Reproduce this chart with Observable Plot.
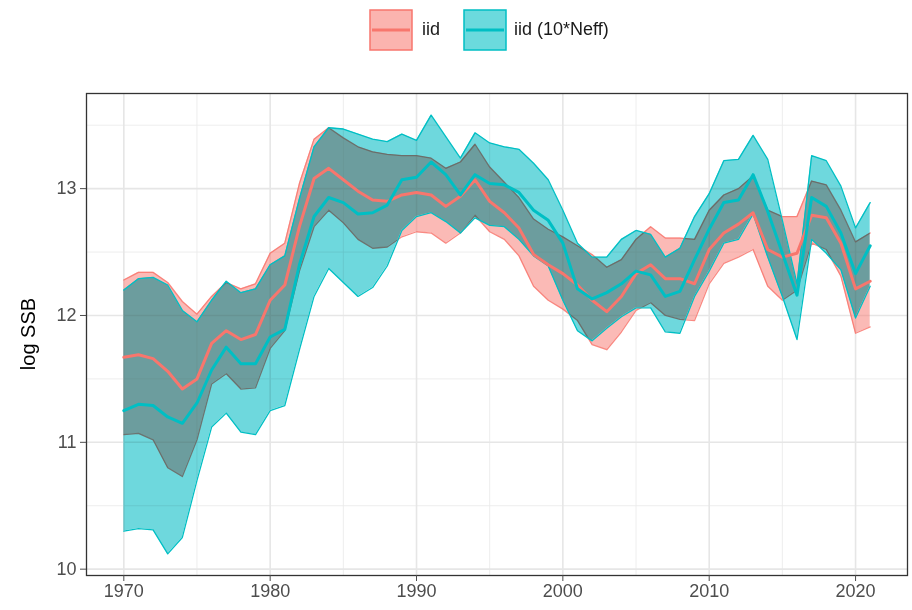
<!DOCTYPE html>
<html><head><meta charset="utf-8">
<script src="https://cdn.jsdelivr.net/npm/d3@7"></script>
<script src="https://cdn.jsdelivr.net/npm/@observablehq/plot@0.6"></script>
<style>
body{margin:0;background:#fff;font-family:"Liberation Sans",Arial,sans-serif;}
#wrap{position:relative;width:912px;height:610px;overflow:hidden;}
#legend{position:relative;height:60px;}
.key{position:absolute;top:9px;}
.ltxt{position:absolute;top:17px;font-size:18px;line-height:24px;color:#1a1a1a;}
#ytitle{position:absolute;left:-72px;top:322px;width:200px;text-align:center;font-size:20px;line-height:24px;transform:rotate(-90deg);color:#000;}
</style></head><body>
<div id="wrap">
  <div id="legend"></div>
  <div id="chart"></div>
  <div id="ytitle">log SSB</div>
</div>
<script>
// ---- data ----
const years = d3.range(1970, 2022);
const seriesNames = ["iid", "iid (10*Neff)"];
const seriesColors = ["#F8766D", "#00BFC4"];

const iidMean = [11.67,11.69,11.66,11.56,11.42,11.50,11.78,11.88,11.81,11.85,12.12,12.24,12.70,13.08,13.16,13.07,12.98,12.91,12.90,12.95,12.97,12.95,12.86,12.94,13.07,12.90,12.81,12.69,12.48,12.40,12.33,12.24,12.12,12.03,12.15,12.33,12.40,12.29,12.29,12.25,12.52,12.65,12.72,12.81,12.52,12.46,12.49,12.79,12.77,12.57,12.21,12.27];
const iidUpper = [12.28,12.34,12.34,12.26,12.11,12.01,12.15,12.26,12.21,12.25,12.49,12.57,13.04,13.39,13.48,13.40,13.33,13.29,13.27,13.26,13.26,13.24,13.16,13.21,13.35,13.17,13.05,12.93,12.76,12.68,12.62,12.55,12.48,12.38,12.44,12.60,12.70,12.61,12.61,12.60,12.83,12.95,13.00,13.10,12.83,12.78,12.78,13.06,13.03,12.83,12.58,12.65];
const iidLower = [11.06,11.07,11.02,10.80,10.73,11.02,11.46,11.54,11.42,11.43,11.74,11.88,12.35,12.70,12.83,12.73,12.60,12.53,12.54,12.62,12.66,12.65,12.57,12.65,12.79,12.66,12.60,12.47,12.23,12.12,12.05,11.96,11.77,11.73,11.87,12.04,12.10,12.00,11.97,11.96,12.25,12.41,12.46,12.52,12.23,12.12,12.20,12.57,12.52,12.31,11.86,11.91];

const neffMean = [11.25,11.30,11.29,11.20,11.15,11.31,11.57,11.75,11.62,11.62,11.83,11.89,12.40,12.78,12.93,12.89,12.80,12.81,12.87,13.07,13.09,13.21,13.11,12.95,13.11,13.04,13.03,12.97,12.83,12.75,12.57,12.21,12.13,12.18,12.25,12.35,12.32,12.15,12.19,12.44,12.68,12.89,12.91,13.11,12.82,12.49,12.16,12.93,12.86,12.65,12.33,12.55];
const neffUpper = [12.20,12.29,12.30,12.24,12.04,11.95,12.12,12.27,12.18,12.21,12.40,12.47,12.92,13.33,13.48,13.47,13.43,13.39,13.37,13.43,13.38,13.58,13.41,13.24,13.44,13.36,13.33,13.31,13.20,13.07,12.83,12.57,12.46,12.46,12.60,12.67,12.64,12.46,12.53,12.78,12.96,13.22,13.23,13.42,13.23,12.75,12.25,13.26,13.22,13.02,12.69,12.89];
const neffLower = [10.30,10.32,10.31,10.12,10.25,10.70,11.12,11.23,11.08,11.06,11.25,11.29,11.73,12.15,12.37,12.26,12.15,12.22,12.39,12.67,12.78,12.81,12.74,12.65,12.77,12.71,12.70,12.60,12.47,12.39,12.12,11.88,11.80,11.90,11.99,12.06,12.06,11.87,11.86,12.15,12.35,12.57,12.60,12.80,12.46,12.15,11.81,12.60,12.49,12.36,11.98,12.23];

const xTicks = [1970, 1980, 1990, 2000, 2010, 2020];
const xMinor = [1975, 1985, 1995, 2005, 2015];
const yTicks = [10, 11, 12, 13];
const yMinor = [10.5, 11.5, 12.5, 13.5];

// ---- tables ----
const iid = years.map((y, i) => ({year: y, mean: iidMean[i], lo: iidLower[i], hi: iidUpper[i]}));
const neff = years.map((y, i) => ({year: y, mean: neffMean[i], lo: neffLower[i], hi: neffUpper[i]}));

const RED = seriesColors[0], TEAL = seriesColors[1];
const TEAL_FILL = "#6ED8DD";

const chart = Plot.plot({
  width: 912,
  height: 550,
  marginTop: 33,
  marginBottom: 35,
  marginLeft: 86,
  marginRight: 5,
  style: {fontFamily: "Liberation Sans, Arial, sans-serif", background: "#fff"},
  x: {type: "linear", domain: [1967.45, 2023.55]},
  y: {type: "linear", domain: [9.95, 13.75]},
  marks: [
    Plot.ruleX(xMinor, {stroke: "#EBEBEB", strokeWidth: 0.9}),
    Plot.ruleY(yMinor, {stroke: "#EBEBEB", strokeWidth: 0.9}),
    Plot.ruleX(xTicks, {stroke: "#E6E6E6", strokeWidth: 1.6}),
    Plot.ruleY(yTicks, {stroke: "#E6E6E6", strokeWidth: 1.6}),
    Plot.areaY(iid, {x: "year", y1: "lo", y2: "hi", fill: RED, fillOpacity: 0.5}),
    Plot.lineY(iid, {x: "year", y: "hi", stroke: RED, strokeWidth: 1.3, strokeOpacity: 0.85}),
    Plot.lineY(iid, {x: "year", y: "lo", stroke: RED, strokeWidth: 1.3, strokeOpacity: 0.85}),
    Plot.areaY(neff, {x: "year", y1: "lo", y2: "hi", fill: TEAL_FILL}),
    Plot.lineY(neff, {x: "year", y: "hi", stroke: TEAL, strokeWidth: 1.3}),
    Plot.lineY(neff, {x: "year", y: "lo", stroke: TEAL, strokeWidth: 1.3}),
    Plot.lineY(iid, {x: "year", y: "mean", stroke: RED, strokeWidth: 3}),
    Plot.lineY(neff, {x: "year", y: "mean", stroke: TEAL, strokeWidth: 3}),
    Plot.frame({stroke: "#333", strokeWidth: 1.3}),
    Plot.axisX({ticks: xTicks, tickFormat: d => String(d), tickSize: 6, tickPadding: 3, fontSize: 18, color: "#4D4D4D", label: null}),
    Plot.axisY({ticks: yTicks, tickFormat: d => String(d), tickSize: 6, tickPadding: 4, fontSize: 18, color: "#4D4D4D", label: null})
  ]
});
// multiply-blend the teal band so its overlap with the red band turns grey, as in the reference
chart.querySelectorAll("path, g").forEach(el => {
  const f = (el.getAttribute("fill") || "").toUpperCase();
  if (f === TEAL_FILL) el.style.mixBlendMode = "multiply";
});
document.getElementById("chart").appendChild(chart);

// ---- legend ----
const legend = document.getElementById("legend");
const keyPos = [369, 463];
const txtPos = [422, 514];
seriesNames.forEach((name, i) => {
  const c = seriesColors[i];
  const k = document.createElement("div");
  k.className = "key";
  k.style.left = keyPos[i] + "px";
  k.innerHTML = `<svg width="44" height="42"><rect x="1" y="1" width="42" height="40" fill="${c}" fill-opacity="${i === 0 ? 0.55 : 0.58}" stroke="${c}" stroke-width="1.5"/><line x1="3" x2="41" y1="21" y2="21" stroke="${c}" stroke-width="3.2"/></svg>`;
  legend.appendChild(k);
  const t = document.createElement("div");
  t.className = "ltxt";
  t.style.left = txtPos[i] + "px";
  t.textContent = name;
  legend.appendChild(t);
});
</script>
</body></html>
